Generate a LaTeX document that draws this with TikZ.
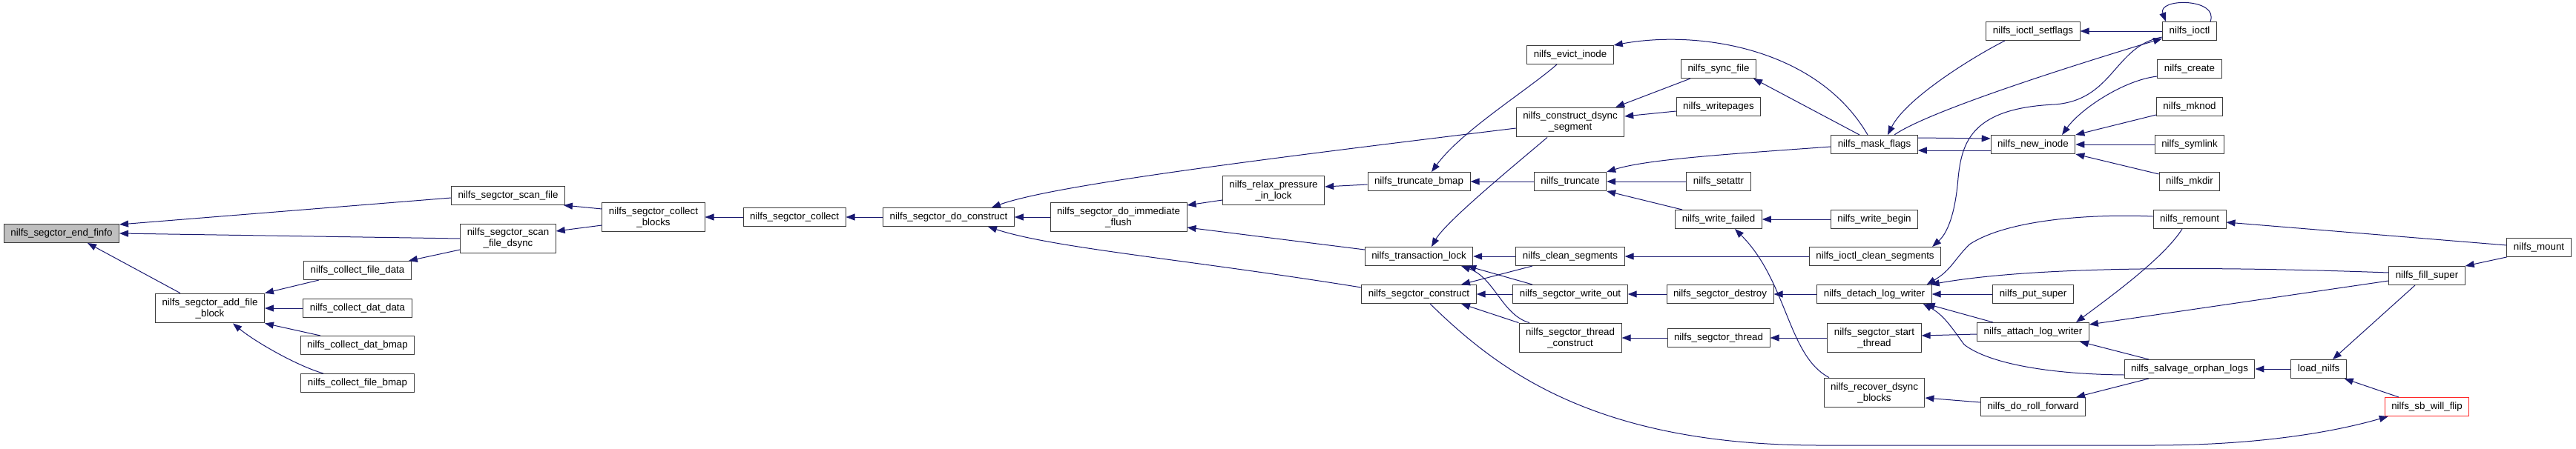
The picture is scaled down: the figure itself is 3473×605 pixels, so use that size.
\documentclass[tikz,border=0pt]{standalone}
\usepackage{fontspec}
\setmainfont{Liberation Sans}
\definecolor{dxedge}{RGB}{25,25,112}
\definecolor{dxframe}{RGB}{60,60,60}
\definecolor{dxroot}{RGB}{191,191,191}
\definecolor{dxred}{RGB}{255,40,40}
\usetikzlibrary{arrows.meta}

\begin{document}
\begin{tikzpicture}[x=1pt,y=-1pt,
    fn/.style={draw=dxframe,line width=1pt,fill=white,inner xsep=9pt,inner ysep=6.25pt,
        minimum height=25pt,align=center,font=\fontsize{13.33}{15}\selectfont},
    call/.style={draw=dxedge,line width=1pt,-{Triangle[length=12pt,width=9pt]}}]

        \useasboundingbox (0,0) rectangle (3473,605);

        % Raiz e primeiros chamadores
        \node[fn,fill=dxroot] (finfo) at (83,315) {nilfs\_segctor\_end\_finfo};
        \node[fn] (addfb) at (283,416) {nilfs\_segctor\_add\_file\\\_block};
        \node[fn] (cfdata) at (482,365) {nilfs\_collect\_file\_data};
        \node[fn] (cddata) at (482,416) {nilfs\_collect\_dat\_data};
        \node[fn] (cdbmap) at (482,466) {nilfs\_collect\_dat\_bmap};
        \node[fn] (cfbmap) at (482,517) {nilfs\_collect\_file\_bmap};
        \node[fn] (scanf) at (685,264) {nilfs\_segctor\_scan\_file};
        \node[fn] (scand) at (685,322) {nilfs\_segctor\_scan\\\_file\_dsync};
        \node[fn] (cblk) at (881,293) {nilfs\_segctor\_collect\\\_blocks};
        \node[fn] (scoll) at (1071,293) {nilfs\_segctor\_collect};
        \node[fn] (doc) at (1279,293) {nilfs\_segctor\_do\_construct};
        \node[fn] (dif) at (1508,293) {nilfs\_segctor\_do\_immediate\\\_flush};
        \node[fn] (relax) at (1717,257) {nilfs\_relax\_pressure\\\_in\_lock};

        % Coluna do truncate / transaction_lock
        \node[fn] (tbmap) at (1913,245) {nilfs\_truncate\_bmap};
        \node[fn] (tlock) at (1913,346) {nilfs\_transaction\_lock};
        \node[fn] (scon) at (1913,397) {nilfs\_segctor\_construct};
        \node[fn] (evict) at (2117,74) {nilfs\_evict\_inode};
        \node[fn] (cdseg) at (2117,165) {nilfs\_construct\_dsync\\\_segment};
        \node[fn] (trunc) at (2117,245) {nilfs\_truncate};
        \node[fn] (clean) at (2117,346) {nilfs\_clean\_segments};
        \node[fn] (wout) at (2117,397) {nilfs\_segctor\_write\_out};
        \node[fn] (tcons) at (2117,456) {nilfs\_segctor\_thread\\\_construct};

        % Coluna do mask_flags / log_writer
        \node[fn] (syncf) at (2317,93) {nilfs\_sync\_file};
        \node[fn] (wpages) at (2317,144) {nilfs\_writepages};
        \node[fn] (setattr) at (2317,245) {nilfs\_setattr};
        \node[fn] (wfail) at (2317,296) {nilfs\_write\_failed};
        \node[fn] (destroy) at (2319,397) {nilfs\_segctor\_destroy};
        \node[fn] (sthread) at (2317,456) {nilfs\_segctor\_thread};
        \node[fn] (mask) at (2527,195) {nilfs\_mask\_flags};
        \node[fn] (wbegin) at (2527,296) {nilfs\_write\_begin};
        \node[fn] (iclean) at (2528,346) {nilfs\_ioctl\_clean\_segments};
        \node[fn] (detach) at (2527,397) {nilfs\_detach\_log\_writer};
        \node[fn] (start) at (2527,456) {nilfs\_segctor\_start\\\_thread};
        \node[fn] (recov) at (2527,530) {nilfs\_recover\_dsync\\\_blocks};
        \node[fn] (isetf) at (2741,42) {nilfs\_ioctl\_setflags};
        \node[fn] (newino) at (2741,195) {nilfs\_new\_inode};
        \node[fn] (puts) at (2741,397) {nilfs\_put\_super};
        \node[fn] (attach) at (2741,448) {nilfs\_attach\_log\_writer};
        \node[fn] (rollf) at (2741,549) {nilfs\_do\_roll\_forward};

        % Ultimas colunas
        \node[fn] (ioctl) at (2952,42) {nilfs\_ioctl};
        \node[fn] (create) at (2952,93) {nilfs\_create};
        \node[fn] (mknod) at (2952,144) {nilfs\_mknod};
        \node[fn] (symlink) at (2952,195) {nilfs\_symlink};
        \node[fn] (mkdir) at (2952,245) {nilfs\_mkdir};
        \node[fn] (remount) at (2952,296) {nilfs\_remount};
        \node[fn] (salv) at (2952,498) {nilfs\_salvage\_orphan\_logs};
        \node[fn] (load) at (3126,498) {load\_nilfs};
        \node[fn] (fill) at (3272,372) {nilfs\_fill\_super};
        \node[fn,draw=dxred] (sbflip) at (3272,549) {nilfs\_sb\_will\_flip};
        \node[fn] (mount) at (3423,334) {nilfs\_mount};

        % Chamadas na mesma linha
        \foreach \a/\b in {cddata/addfb, scoll/cblk, doc/scoll, dif/doc, trunc/tbmap,
            clean/tlock, wout/scon, setattr/trunc, wbegin/wfail, iclean/clean,
            destroy/wout, sthread/tcons, detach/destroy, start/sthread, puts/detach,
            symlink/newino, ioctl/isetf, load/salv}{
            \draw[call] (\a.west) -- (\b.east);
        }

        % Chamadores de end_finfo e add_file_block
        \draw[call] ([yshift=-3pt]scanf.west) -- ([yshift=-1pt]finfo.north east);
        \draw[call] (scand.west) -- (finfo.east);
        \draw[call] ([xshift=-40pt]addfb.north) -- ([xshift=35pt]finfo.south);
        \draw[call] ([xshift=-52pt]cfdata.south) -- (addfb.north east);
        \draw[call] ([xshift=-50pt]cdbmap.north) -- (addfb.south east);
        \draw[call] ([xshift=-46pt]cfbmap.north) .. controls +(-35,-10) and +(30,25) .. ([xshift=31pt]addfb.south);
        \draw[call] ([yshift=-15pt]scand.west) -- ([xshift=-4pt]cfdata.north east);
        \draw[call] ([yshift=11pt]cblk.west) -- ([xshift=-2pt]scanf.south east);
        \draw[call] ([yshift=-11pt]cblk.west) -- ([yshift=10pt]scand.east);

        % do_construct e immediate_flush
        \draw[call] ([yshift=-8pt]cdseg.west) .. controls (1700,215) and (1420,250) .. ([xshift=58pt]doc.north);
        \draw[call] ([yshift=9pt]scon.west) .. controls (1600,350) and (1420,335) .. ([xshift=53pt]doc.south);
        \draw[call] ([yshift=-13pt]relax.west) -- ([yshift=16pt]dif.east);
        \draw[call] ([yshift=9pt]tlock.west) -- ([yshift=-14pt]dif.east);
        \draw[call] ([yshift=-4pt]tbmap.west) -- ([yshift=5pt]relax.east);
        \draw[call] ([xshift=-18pt]evict.south) .. controls +(-40,35) and +(40,-55) .. ([xshift=17pt]tbmap.north);
        \draw[call] ([xshift=-38pt]syncf.south) -- ([xshift=-12pt]cdseg.north east);
        \draw[call] ([yshift=-6pt]wpages.west) -- ([yshift=8pt]cdseg.east);
        \draw[call] ([xshift=-31pt]cdseg.south) .. controls +(-35,30) and +(20,-35) .. ([xshift=17pt]tlock.north);

        % segctor_construct e transaction_lock
        \draw[call] ([xshift=-51pt]clean.south) -- ([xshift=57pt]scon.north);
        \draw[call] (tcons.north west) -- ([xshift=57pt]scon.south);
        \draw[call] ([xshift=-51pt]wout.north) -- ([xshift=-8pt]tlock.south east);
        \draw[call] ([xshift=-55pt]tcons.north) .. controls (2025,425) and (2015,375) .. ([xshift=57pt]tlock.south);
        \draw[call] ([xshift=15pt]scon.south) .. controls (2020,500) and (2150,600) .. (2450,601)
            -- (2900,601) .. controls (3050,601) and (3150,582) .. ([xshift=5pt]sbflip.south west);

        % truncate e write_failed
        \draw[call] ([yshift=-3pt]mask.west) .. controls (2330,208) and (2220,215) .. (trunc.north east);
        \draw[call] ([xshift=-49pt]wfail.north) -- (trunc.south east);
        \draw[call] ([xshift=-61pt]recov.north) .. controls (2410,480) and (2410,380) .. ([xshift=22pt]wfail.south);

        % mask_flags
        \draw[call] ([xshift=-20pt]mask.north) -- ([xshift=-4pt]syncf.south east);
        \draw[call] ([xshift=-9pt]mask.north) .. controls (2450,65) and (2290,40) .. (evict.north east);
        \draw[call] ([xshift=-38pt]isetf.south) .. controls +(-40,20) and +(25,-50) .. ([xshift=18pt]mask.north);
        \draw[call] ([xshift=27pt]mask.north) .. controls (2604,147) and (2832,77) .. ([yshift=-10pt]ioctl.west);
        \draw[call] ([yshift=-8pt]newino.west) -- ([yshift=-8pt]mask.east);
        \draw[call] ([yshift=9pt]mask.east) -- ([yshift=8pt]newino.west);

        % new_inode
        \draw[call] ([yshift=-10pt]create.west) .. controls +(-45,5) and +(25,-35) .. ([xshift=39pt]newino.north);
        \draw[call] ([yshift=-11pt]mknod.west) -- (newino.north east);
        \draw[call] ([yshift=10pt]mkdir.west) -- (newino.south east);

        % ioctl (laco e ioctl_clean_segments)
        \draw[call] ([xshift=28pt]ioctl.north) .. controls +(12,-32) and +(-12,-32) .. ([xshift=-32pt]ioctl.north);
        \draw[call] ([yshift=-8pt]ioctl.west) .. controls (2850,62) and (2850,135) .. (2770,141)
            .. controls (2660,146) and (2645,190) .. (2640,240)
            .. controls (2636,290) and (2625,315) .. ([xshift=-12pt]iclean.north east);

        % detach_log_writer
        \draw[call] ([yshift=4pt]remount.west) .. controls (2800,288) and (2700,300) .. (2655,330)
            .. controls (2635,350) and (2630,365) .. ([xshift=-7pt]detach.north east);
        \draw[call] ([yshift=4pt]fill.west) .. controls (3000,360) and (2750,358) .. ([xshift=-2pt]detach.north east);
        \draw[call] ([xshift=-54pt]attach.north) -- ([xshift=-8pt]detach.south east);
        \draw[call] ([yshift=-8pt]salv.west) .. controls (2760,505) and (2680,490) .. (2648,465)
            .. controls (2630,440) and (2620,425) .. ([xshift=-12pt]detach.south east);

        % attach_log_writer e roll_forward
        \draw[call] ([yshift=-3pt]attach.west) -- ([yshift=3pt]start.east);
        \draw[call] ([xshift=-10pt]remount.south) .. controls +(-25,40) and +(40,-30) .. ([xshift=58pt]attach.north);
        \draw[call] ([yshift=-7pt]fill.west) -- ([yshift=-3pt]attach.north east);
        \draw[call] ([xshift=-55pt]salv.north) -- ([xshift=-13pt]attach.south east);
        \draw[call] ([xshift=-55pt]salv.south) -- ([xshift=-13pt]rollf.north east);
        \draw[call] ([yshift=6pt]rollf.west) -- ([yshift=-7pt]recov.east);

        % mount, fill_super, load_nilfs
        \draw[call] ([yshift=3pt]mount.west) -- ([yshift=-4pt]remount.east);
        \draw[call] (mount.south west) -- (fill.north east);
        \draw[call] ([xshift=-16pt]fill.south) -- ([xshift=19pt]load.north);
        \draw[call] ([xshift=-38pt]sbflip.north) -- ([xshift=-3pt]load.south east);

    \end{tikzpicture}
\end{document}
